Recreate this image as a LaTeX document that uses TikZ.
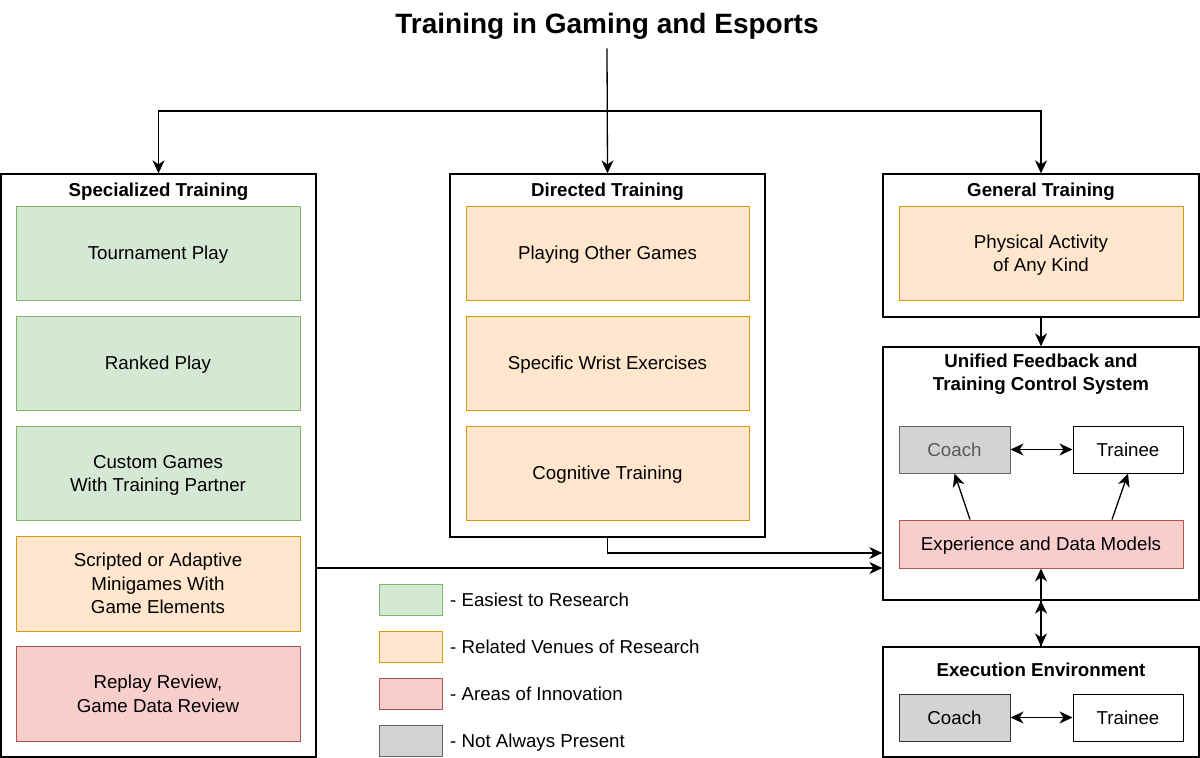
\documentclass[tikz,border=0pt]{standalone}
\usepackage{fontspec}
\setmainfont{Liberation Sans}
\usetikzlibrary{arrows.meta,calc}
\definecolor{gfill}{HTML}{D5E8D4}\definecolor{gdraw}{HTML}{82B366}
\definecolor{ofill}{HTML}{FFE6CC}\definecolor{odraw}{HTML}{D79B00}
\definecolor{rfill}{HTML}{F8CECC}\definecolor{rdraw}{HTML}{B85450}
\definecolor{kfill}{HTML}{D3D3D3}\definecolor{kdraw}{HTML}{666666}
\definecolor{ktext}{HTML}{5A5A5A}
\newcommand\mytopstrut{\rule{0pt}{18.7pt}}
\newcommand\mybotstrut{\rule[-5pt]{0pt}{5pt}}
\tikzset{
  struts/.style={execute at begin node=\mytopstrut, execute at end node=\mybotstrut},
  txt/.style={font=\fontsize{18.7}{23.5}\selectfont, align=center, text=black, struts},
  hdr/.style={font=\fontsize{18.7}{23.5}\selectfont\bfseries, align=center, inner sep=0pt, struts},
  group/.style={draw=black, line width=1.3pt, fill=white, rectangle},
  inner/.style={txt, rectangle, line width=1pt, inner sep=0pt},
  green/.style={inner, fill=gfill, draw=gdraw},
  orange/.style={inner, fill=ofill, draw=odraw},
  red/.style={inner, fill=rfill, draw=rdraw},
  grey/.style={inner, fill=kfill, draw=kdraw},
  plain/.style={inner, fill=white, draw=black},
  legbox/.style={rectangle, line width=1pt, minimum width=63pt, minimum height=31pt, inner sep=0pt},
  legtxt/.style={txt, anchor=west, inner sep=0pt},
  arr/.style={line width=1.3pt, -{Stealth[length=13pt,width=12pt,inset=4pt]}},
  darr/.style={line width=1.3pt, {Stealth[length=13pt,width=12pt,inset=4pt]}-{Stealth[length=13pt,width=12pt,inset=4pt]}},
}
\begin{document}
\begin{tikzpicture}[x=1pt,y=-1pt]
\useasboundingbox (0,0) rectangle (1200,758);
\fill[white] (0,0) rectangle (1200,758);

% title
\node[font=\fontsize{28}{32}\selectfont\bfseries, inner sep=0pt] (title) at (607,26) {Training in Gaming and Esports};

% groups
\node[group, minimum width=315pt, minimum height=583pt] (spec) at (158.5,465.5) {};
\node[group, minimum width=315pt, minimum height=363pt] (dir) at (607.5,355.5) {};
\node[group, minimum width=316pt, minimum height=143pt] (gen) at (1041,245.5) {};
\node[group, minimum width=316pt, minimum height=253pt] (uni) at (1041,473.5) {};
\node[group, minimum width=316pt, minimum height=110pt] (exec) at (1041,702) {};

\node[hdr] (specT) at (158.5,190) {Specialized Training};
\node[hdr] (dirT) at (607.5,190) {Directed Training};
\node[hdr] (genT) at (1041,190) {General Training};
\node[hdr] (uniT) at (1041,372) {\mytopstrut Unified Feedback and\\Training Control System};
\node[hdr] (execT) at (1041,670) {Execution Environment};

% specialized
\node[green, minimum width=284pt, minimum height=94pt] (s1) at (158,253) {Tournament Play};
\node[green, minimum width=284pt, minimum height=94pt] (s2) at (158,363) {Ranked Play};
\node[green, minimum width=284pt, minimum height=94pt] (s3) at (158,473) {\mytopstrut Custom Games\\With Training Partner};
\node[orange, minimum width=284pt, minimum height=95pt] (s4) at (158,583.5) {\mytopstrut Scripted or Adaptive\\Minigames With\\Game Elements};
\node[red, minimum width=284pt, minimum height=95pt] (s5) at (158,693.5) {\mytopstrut Replay Review,\\Game Data Review};

% directed
\node[orange, minimum width=283pt, minimum height=94pt] (d1) at (607.5,253) {Playing Other Games};
\node[orange, minimum width=283pt, minimum height=94pt] (d2) at (607.5,363) {Specific Wrist Exercises};
\node[orange, minimum width=283pt, minimum height=94pt] (d3) at (607.5,473) {Cognitive Training};

% general
\node[orange, minimum width=284pt, minimum height=94pt] (g1) at (1041,253) {\mytopstrut Physical Activity\\of Any Kind};

% unified
\node[grey, text=ktext, minimum width=111pt, minimum height=47pt] (ucoach) at (954.5,449.5) {Coach};
\node[plain, minimum width=110pt, minimum height=47pt] (utrainee) at (1128,449.5) {Trainee};
\node[red, minimum width=284pt, minimum height=48pt] (exp) at (1041,544) {Experience and Data Models};

% execution
\node[grey, draw=black!80, minimum width=111pt, minimum height=47pt] (ecoach) at (954.5,717.5) {Coach};
\node[plain, minimum width=110pt, minimum height=47pt] (etrainee) at (1128,717.5) {Trainee};

% legend
\node[legbox, fill=gfill, draw=gdraw] (l1) at (410.5,599.5) {};
\node[legbox, fill=ofill, draw=odraw] (l2) at (410.5,646.5) {};
\node[legbox, fill=rfill, draw=rdraw] (l3) at (410.5,693.5) {};
\node[legbox, fill=kfill, draw=kdraw] (l4) at (410.5,740.5) {};
\node[legtxt] (l1t) at (450,599.5) {- Easiest to Research};
\node[legtxt] (l2t) at (450,646.5) {- Related Venues of Research};
\node[legtxt] (l3t) at (450,693.5) {- Areas of Innovation};
\node[legtxt] (l4t) at (450,740.5) {- Not Always Present};

% connectors
\coordinate (split) at (607,111);
\draw[arr] ([yshift=-9pt]title.south) -- (dir.north);
\draw[arr] (split) -| (spec.north);
\draw[arr] (split) -| (gen.north);
\draw[arr] (gen.south) -- (uni.north);
\draw[arr] (dir.south) |- ([yshift=-9pt]uni.west |- exp.center);
\draw[arr] ([yshift=-24pt]spec.east |- exp.center) -- ([yshift=-24pt]uni.west |- exp.center);
\draw[darr] (ucoach) -- (utrainee);
\draw[arr] ($(exp.north)+(-71,0)$) -- (ucoach.south);
\draw[arr] ($(exp.north)+(71,0)$) -- (utrainee.south);
\draw[arr] (exec.north) -- (exp.south);
\draw[darr] (uni.south) -- (exec.north);
\draw[darr] (ecoach) -- (etrainee);
\end{tikzpicture}
\end{document}
